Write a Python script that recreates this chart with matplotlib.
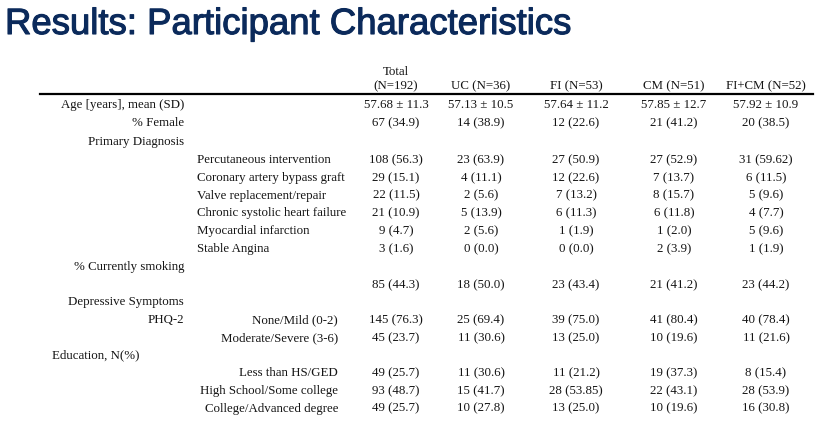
import matplotlib
matplotlib.use("Agg")
import matplotlib.pyplot as plt
import matplotlib.patheffects as pe

# --- table content ---
groups = ["UC (N=36)", "FI (N=53)", "CM (N=51)", "FI+CM (N=52)"]
total_header = ["Total", "(N=192)"]

age = ["57.68 ± 11.3", "57.13 ± 10.5", "57.64 ± 11.2", "57.85 ± 12.7", "57.92 ± 10.9"]
female = ["67 (34.9)", "14 (38.9)", "12 (22.6)", "21 (41.2)", "20 (38.5)"]

diagnosis_labels = ["Percutaneous intervention", "Coronary artery bypass graft",
                    "Valve replacement/repair", "Chronic systolic heart failure",
                    "Myocardial infarction", "Stable Angina"]
diagnosis_values = [
    ["108 (56.3)", "23 (63.9)", "27 (50.9)", "27 (52.9)", "31 (59.62)"],
    ["29 (15.1)", "4 (11.1)", "12 (22.6)", "7 (13.7)", "6 (11.5)"],
    ["22 (11.5)", "2 (5.6)", "7 (13.2)", "8 (15.7)", "5 (9.6)"],
    ["21 (10.9)", "5 (13.9)", "6 (11.3)", "6 (11.8)", "4 (7.7)"],
    ["9 (4.7)", "2 (5.6)", "1 (1.9)", "1 (2.0)", "5 (9.6)"],
    ["3 (1.6)", "0 (0.0)", "0 (0.0)", "2 (3.9)", "1 (1.9)"],
]

smoking = ["85 (44.3)", "18 (50.0)", "23 (43.4)", "21 (41.2)", "23 (44.2)"]

phq_labels = ["None/Mild (0-2)", "Moderate/Severe (3-6)"]
phq_values = [
    ["145 (76.3)", "25 (69.4)", "39 (75.0)", "41 (80.4)", "40 (78.4)"],
    ["45 (23.7)", "11 (30.6)", "13 (25.0)", "10 (19.6)", "11 (21.6)"],
]

edu_labels = ["Less than HS/GED", "High School/Some college", "College/Advanced degree"]
edu_values = [
    ["49 (25.7)", "11 (30.6)", "11 (21.2)", "19 (37.3)", "8 (15.4)"],
    ["93 (48.7)", "15 (41.7)", "28 (53.85)", "22 (43.1)", "28 (53.9)"],
    ["49 (25.7)", "10 (27.8)", "13 (25.0)", "10 (19.6)", "16 (30.8)"],
]

W, H = 830, 426
fig = plt.figure(figsize=(W / 100, H / 100), dpi=100)


def px(x, y):
    return x / W, 1 - y / H


serif = "Liberation Serif"
ink = "#151515"
fs = 9.3


def put(x, y, s, ha="center"):
    fig.text(*px(x, y), s, ha=ha, va="center", fontsize=fs,
             family=serif, color=ink)


# title
navy = "#0b2a5b"
fig.text(*px(5, 34), "Results: Participant Characteristics", ha="left",
         va="baseline", fontsize=26.3, family="Liberation Sans", color=navy,
         path_effects=[pe.withStroke(linewidth=0.8, foreground=navy)])

col_x = [396, 481, 576, 674, 766]
label_r = 184    # right edge of main labels
sub_l = 197      # left edge of diagnosis labels
sub_r = 338      # right edge of PHQ / education labels

# header
put(col_x[0], 72, total_header[0])
put(col_x[0], 86, total_header[1])
for x, g in zip(col_x[1:], groups):
    put(x, 86, g)
line = plt.Line2D([40 / W, 813 / W], [1 - 94 / H, 1 - 94 / H],
                  transform=fig.transFigure, color="black", lw=1.6)
fig.add_artist(line)


def values_row(y, vals):
    for x, v in zip(col_x, vals):
        put(x, y, v)


put(label_r, 105, "Age [years], mean (SD)", ha="right")
values_row(105, age)
put(label_r, 123, "% Female", ha="right")
values_row(123, female)
put(label_r, 142, "Primary Diagnosis", ha="right")

y = 160
for lab, vals in zip(diagnosis_labels, diagnosis_values):
    put(sub_l, y, lab, ha="left")
    values_row(y, vals)
    y += 17.8

put(label_r, 267, "% Currently smoking", ha="right")
values_row(285, smoking)

put(label_r, 302, "Depressive Symptoms", ha="right")
put(label_r, 320, "PHQ-2", ha="right")
y = 320
for lab, vals in zip(phq_labels, phq_values):
    put(sub_r, y, lab, ha="right")
    values_row(y, vals)
    y += 17.8

put(52, 355, "Education, N(%)", ha="left")
y = 373
for lab, vals in zip(edu_labels, edu_values):
    put(sub_r, y, lab, ha="right")
    values_row(y, vals)
    y += 17.8

fig.savefig("out.png", dpi=100)
